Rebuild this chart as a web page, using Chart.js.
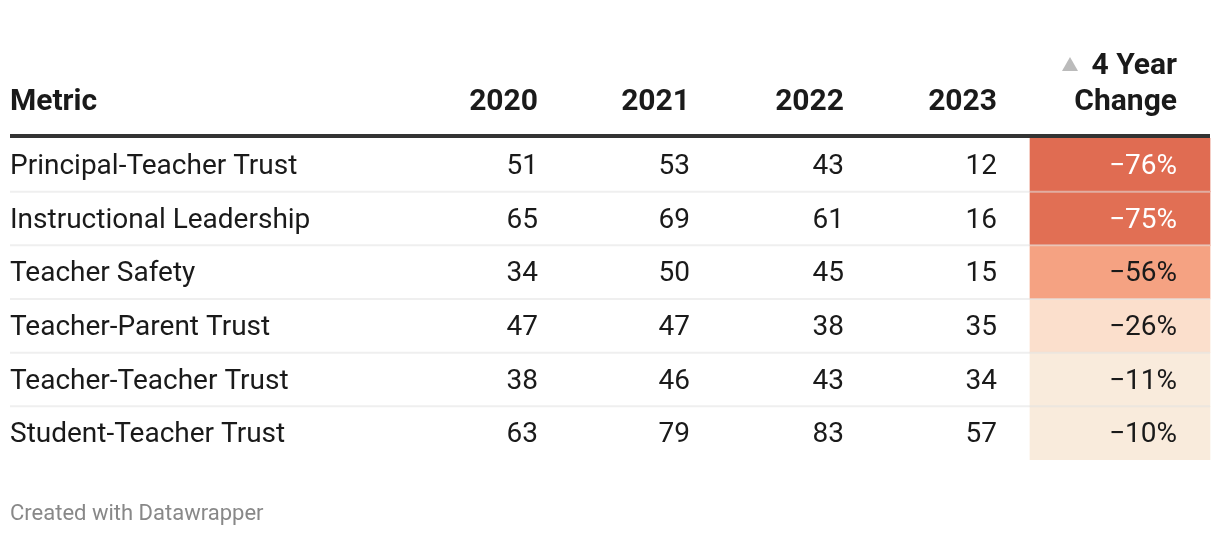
<!DOCTYPE html>
<html>
<head>
<meta charset="utf-8">
<script src="https://cdn.jsdelivr.net/npm/chart.js"></script>
<style>
  body { margin: 0; background: #fff; }
  canvas { display: block; }
</style>
</head>
<body>
<canvas id="table" width="1220" height="536"></canvas>
<script>
// table data
const metrics = [
  "Principal-Teacher Trust",
  "Instructional Leadership",
  "Teacher Safety",
  "Teacher-Parent Trust",
  "Teacher-Teacher Trust",
  "Student-Teacher Trust",
];
const years = ["2020", "2021", "2022", "2023"];
const v2020 = [51, 65, 34, 47, 38, 63];
const v2021 = [53, 69, 50, 47, 46, 79];
const v2022 = [43, 61, 45, 38, 43, 83];
const v2023 = [12, 16, 15, 35, 34, 57];
const change = [-76, -75, -56, -26, -11, -10];

// layout (pixels on a 0..1220 x scale)
const colRight = [538, 690, 844, 997];
const changeCell = [1030, 1210];
const changeRight = 1177;
const left = 10;
const right = 1210;

const FONT = "Roboto, 'Noto Sans', sans-serif";

// colour scale for the change column
const stops = [
  [-80, [222, 101, 75]],
  [-76, [224, 108, 82]],
  [-56, [245, 162, 130]],
  [-26, [251, 223, 204]],
  [-11, [249, 235, 220]],
  [0, [250, 238, 224]],
];
function heat(v) {
  for (let i = 0; i < stops.length - 1; i++) {
    const [a, ca] = stops[i];
    const [b, cb] = stops[i + 1];
    if (v >= a && v <= b) {
      const t = (v - a) / (b - a);
      const c = ca.map((x, k) => Math.round(x + (cb[k] - x) * t));
      return `rgb(${c[0]},${c[1]},${c[2]})`;
    }
  }
  return "rgb(250,238,224)";
}
const fmt = (v) => (v < 0 ? "\u2212" : "") + Math.abs(v) + "%";

const columns = [v2020, v2021, v2022, v2023];

const tablePlugin = {
  id: "tableText",
  afterDatasetsDraw(chart) {
    const { ctx, chartArea, scales } = chart;
    const x = scales.x;
    const y = scales.y;
    ctx.save();

    // row separators
    ctx.strokeStyle = "rgba(225,225,225,0.55)";
    ctx.lineWidth = 2;
    for (let i = 0; i < metrics.length - 1; i++) {
      const yy = (y.getPixelForValue(i) + y.getPixelForValue(i + 1)) / 2;
      ctx.beginPath();
      ctx.moveTo(x.getPixelForValue(left), yy);
      ctx.lineTo(x.getPixelForValue(right), yy);
      ctx.stroke();
    }

    // header rule
    ctx.fillStyle = "#333333";
    ctx.fillRect(x.getPixelForValue(left), chartArea.top - 4, x.getPixelForValue(right) - x.getPixelForValue(left), 4);

    // header
    ctx.fillStyle = "#1a1a1a";
    ctx.font = "bold 30px " + FONT;
    ctx.textBaseline = "alphabetic";
    ctx.textAlign = "left";
    ctx.fillText("Metric", x.getPixelForValue(left), 110);
    ctx.textAlign = "right";
    years.forEach((yr, i) => ctx.fillText(yr, x.getPixelForValue(colRight[i]), 110));
    ctx.fillText("Change", x.getPixelForValue(changeRight), 110);
    ctx.fillText("4 Year", x.getPixelForValue(changeRight), 74);

    // sort triangle
    ctx.fillStyle = "#bbbbbb";
    ctx.beginPath();
    ctx.moveTo(1062, 71);
    ctx.lineTo(1078, 71);
    ctx.lineTo(1070, 57);
    ctx.closePath();
    ctx.fill();

    // body
    ctx.font = "28px " + FONT;
    ctx.textBaseline = "middle";
    metrics.forEach((m, r) => {
      const yy = y.getPixelForValue(r) + 2;
      ctx.fillStyle = "#1a1a1a";
      ctx.textAlign = "left";
      ctx.fillText(m, x.getPixelForValue(left), yy);
      ctx.textAlign = "right";
      columns.forEach((col, c) => ctx.fillText(String(col[r]), x.getPixelForValue(colRight[c]), yy));
      ctx.fillStyle = change[r] <= -70 ? "#ffffff" : "#1a1a1a";
      ctx.fillText(fmt(change[r]), x.getPixelForValue(changeRight), yy);
    });

    // footer
    ctx.fillStyle = "#888888";
    ctx.font = "22px " + FONT;
    ctx.textAlign = "left";
    ctx.textBaseline = "alphabetic";
    ctx.fillText("Created with Datawrapper", x.getPixelForValue(left), 520);

    ctx.restore();
  },
};

new Chart(document.getElementById("table"), {
  type: "bar",
  data: {
    labels: metrics,
    datasets: [
      {
        label: "4 Year Change",
        data: change.map(() => changeCell),
        backgroundColor: change.map(heat),
        borderWidth: 0,
        barPercentage: 1,
        categoryPercentage: 1,
      },
    ],
  },
  options: {
    indexAxis: "y",
    responsive: false,
    animation: false,
    layout: { padding: { top: 138, bottom: 76, left: 0, right: 0 } },
    plugins: { legend: { display: false }, tooltip: { enabled: false } },
    scales: {
      x: { type: "linear", min: 0, max: 1220, display: false },
      y: { display: false },
    },
  },
  plugins: [tablePlugin],
});
</script>
</body>
</html>
